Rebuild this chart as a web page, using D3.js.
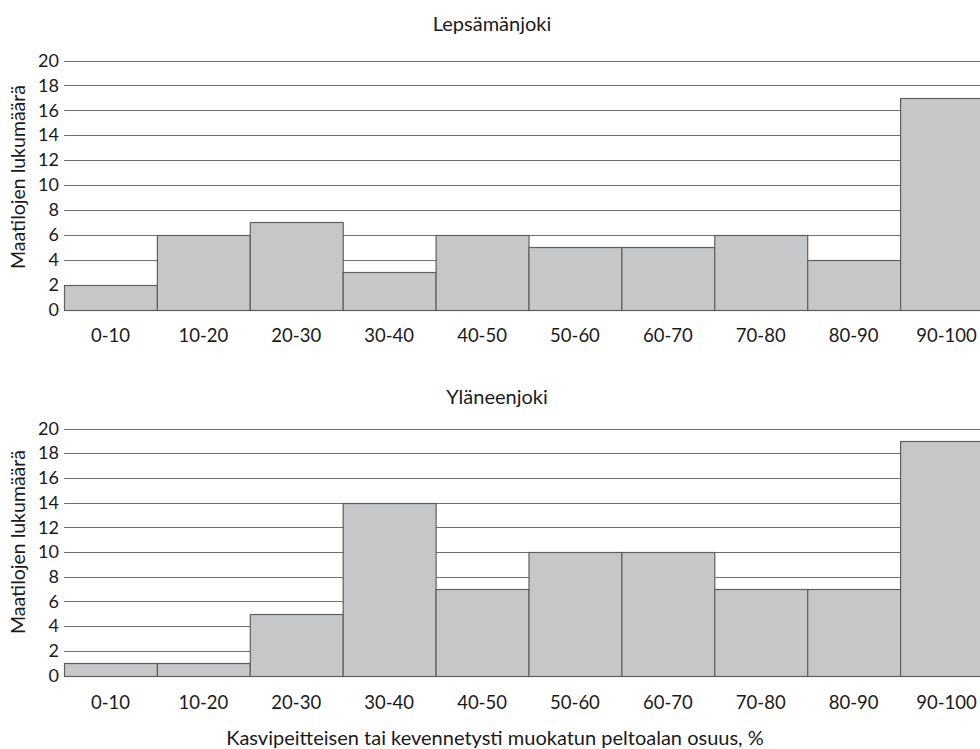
<!DOCTYPE html>
<html><head><meta charset="utf-8">
<script src="https://cdn.jsdelivr.net/npm/d3@7"></script>
<style>body{margin:0;background:#fff}svg{display:block}text{font-family:Lato,"Open Sans",sans-serif;fill:#1a1a1a}</style>
</head><body><svg id="c" width="980" height="749"></svg>
<script>
const categories = ["0-10","10-20","20-30","30-40","40-50","50-60","60-70","70-80","80-90","90-100"];
const lepsamanjoki = [2,6,7,3,6,5,5,6,4,17];
const ylaneenjoki = [1,1,5,14,7,10,10,7,7,19];
const yTicks = [0,2,4,6,8,10,12,14,16,18,20];
const titles = ["Lepsämänjoki","Yläneenjoki"];
const yLabel = "Maatilojen lukumäärä";
const xLabel = "Kasvipeitteisen tai kevennetysti muokatun peltoalan osuus, %";

const svg = d3.select("#c");
const x = d3.scaleBand().domain(categories).range([64, 993]).padding(0);
const panels = [
  {title: titles[0], values: lepsamanjoki, y0: 309.5, y1: 60.5, titleX: 492, titleY: 31, labY: 342, yLabC: 177},
  {title: titles[1], values: ylaneenjoki, y0: 675.5, y1: 428.5, titleX: 497, titleY: 404, labY: 709, yLabC: 542}
];
panels.forEach(p => {
  const y = d3.scaleLinear().domain([0,20]).range([p.y0, p.y1]);
  const g = svg.append("g");
  g.selectAll("line.grid").data(yTicks).join("line")
    .attr("x1", 64).attr("x2", 980)
    .attr("y1", d => Math.round(y(d)) + 0.5).attr("y2", d => Math.round(y(d)) + 0.5)
    .attr("stroke", "#6f6f6f").attr("stroke-width", 1.2);
  g.selectAll("rect").data(p.values).join("rect")
    .attr("x", (d,i) => x(categories[i]) + 0.5)
    .attr("y", d => Math.round(y(d)) + 0.5)
    .attr("width", x.bandwidth())
    .attr("height", d => Math.round(y(0)) - Math.round(y(d)))
    .attr("fill", "#c6c7c9").attr("stroke", "#5f5f5f").attr("stroke-width", 1.2);
  const ya = d3.axisLeft(y).tickValues(yTicks).tickSize(0).tickPadding(5);
  const ag = g.append("g").attr("transform", "translate(64,0)").call(ya);
  ag.select(".domain").remove();
  ag.selectAll("text").style("font-size", "18px").style("font-family", "Lato,sans-serif").attr("fill", "#1a1a1a");
  const xa = d3.axisBottom(x).tickSize(0).tickPadding(0);
  const xg = g.append("g").attr("transform", `translate(0,${p.labY - 13})`).call(xa);
  xg.select(".domain").remove();
  xg.selectAll("text").attr("dy", null).attr("y", 13).style("font-size", "18.5px").style("font-family", "Lato,sans-serif").attr("fill", "#1a1a1a");
  g.append("text").attr("x", p.titleX).attr("y", p.titleY).attr("text-anchor", "middle")
    .style("font-size", "20px").text(p.title);
  g.append("text").attr("transform", `translate(25,${p.yLabC}) rotate(-90)`)
    .attr("text-anchor", "middle").style("font-size", "19.5px").text(yLabel);
});
svg.append("text").attr("x", 495).attr("y", 745).attr("text-anchor", "middle")
  .style("font-size", "20px").text(xLabel);
</script></body></html>
